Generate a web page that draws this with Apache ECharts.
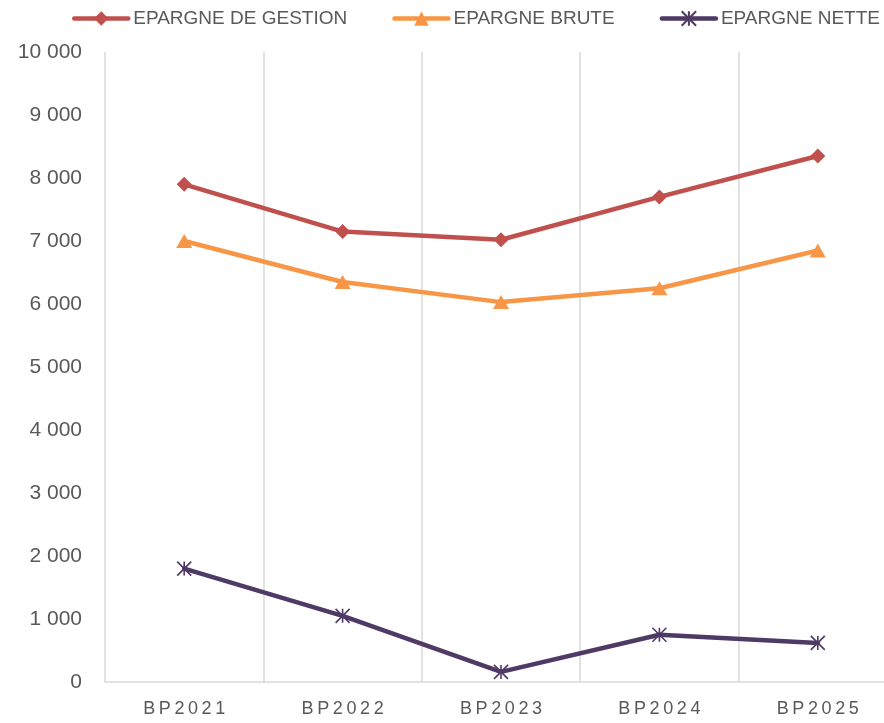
<!DOCTYPE html>
<html>
<head>
    <meta charset="utf-8">
    <title>Epargne</title>
    <script src="https://cdn.jsdelivr.net/npm/echarts@6/dist/echarts.min.js"></script>
    <style>
        html, body { margin: 0; padding: 0; background: #fff; overflow: hidden; }
        /* la zone de tracé dépasse un peu à droite, comme dans l'original */
        #chart1 { width: 897px; height: 723px; }
    </style>
</head>
<body>
<div id="chart1"></div>
<script type="text/javascript">
    // données
    var categories = ['BP2021', 'BP2022', 'BP2023', 'BP2024', 'BP2025'];
    var epargneGestion = [7900, 7150, 7020, 7700, 8350];
    var epargneBrute = [7000, 6350, 6030, 6250, 6850];
    var epargneNette = [1800, 1050, 160, 750, 620];
    var seriesNames = ['EPARGNE DE GESTION', 'EPARGNE BRUTE', 'EPARGNE NETTE'];

    var textColor = '#595959';
    var gridColor = '#D9D9D9';

    function spaced(v) {
        return v.split('').join('\u2009');
    }
    function milliers(v) {
        return String(v).replace(/\B(?=(\d{3})+(?!\d))/g, ' ');
    }

    var myChart1 = echarts.init(document.getElementById('chart1'));
    myChart1.setOption({
        animation: false,
        legend: {
            left: 67,
            top: 4,
            width: 830,
            itemWidth: 54,
            itemHeight: 18,
            itemGap: 45,
            lineStyle: { width: 4.5 },
            textStyle: {
                fontFamily: '"Liberation Sans"',
                fontSize: 19,
                color: textColor
            },
            data: seriesNames
        },
        grid: {
            left: 105,
            right: 0,
            top: 52,
            bottom: 41,
            containLabel: false
        },
        xAxis: {
            type: 'category',
            data: categories,
            boundaryGap: true,
            axisLine: { lineStyle: { color: gridColor, width: 1.5 } },
            axisTick: { show: false },
            splitLine: { show: true, lineStyle: { color: gridColor, width: 1.5 } },
            axisLabel: {
                margin: 18,
                fontFamily: '"Liberation Sans"',
                fontSize: 18,
                color: textColor,
                formatter: spaced
            }
        },
        yAxis: {
            type: 'value',
            min: 0,
            max: 10000,
            interval: 1000,
            axisLine: { show: false },
            axisTick: { show: false },
            splitLine: { show: false },
            axisLabel: {
                margin: 23,
                fontFamily: '"Liberation Sans"',
                fontSize: 21,
                color: textColor,
                formatter: milliers
            }
        },
        series: [
            {
                name: seriesNames[0],
                type: 'line',
                data: epargneGestion,
                symbol: 'diamond',
                symbolSize: 15,
                showAllSymbol: true,
                lineStyle: { color: '#C0504D', width: 4.5, cap: 'round', join: 'round' },
                itemStyle: { color: '#C0504D' }
            },
            {
                name: seriesNames[1],
                type: 'line',
                data: epargneBrute,
                symbol: 'triangle',
                symbolSize: [16, 14],
                showAllSymbol: true,
                lineStyle: { color: '#F79646', width: 4.5, cap: 'round', join: 'round' },
                itemStyle: { color: '#F79646' }
            },
            {
                name: seriesNames[2],
                type: 'line',
                data: epargneNette,
                symbol: 'path://M0,0L10,10M10,0L0,10M5,0L5,10',
                symbolSize: 14,
                showAllSymbol: true,
                lineStyle: { color: '#4E3A65', width: 4.5, cap: 'round', join: 'round' },
                itemStyle: { color: '#4E3A65', borderColor: '#4E3A65', borderWidth: 1.6 }
            }
        ]
    });
</script>
</body>
</html>
